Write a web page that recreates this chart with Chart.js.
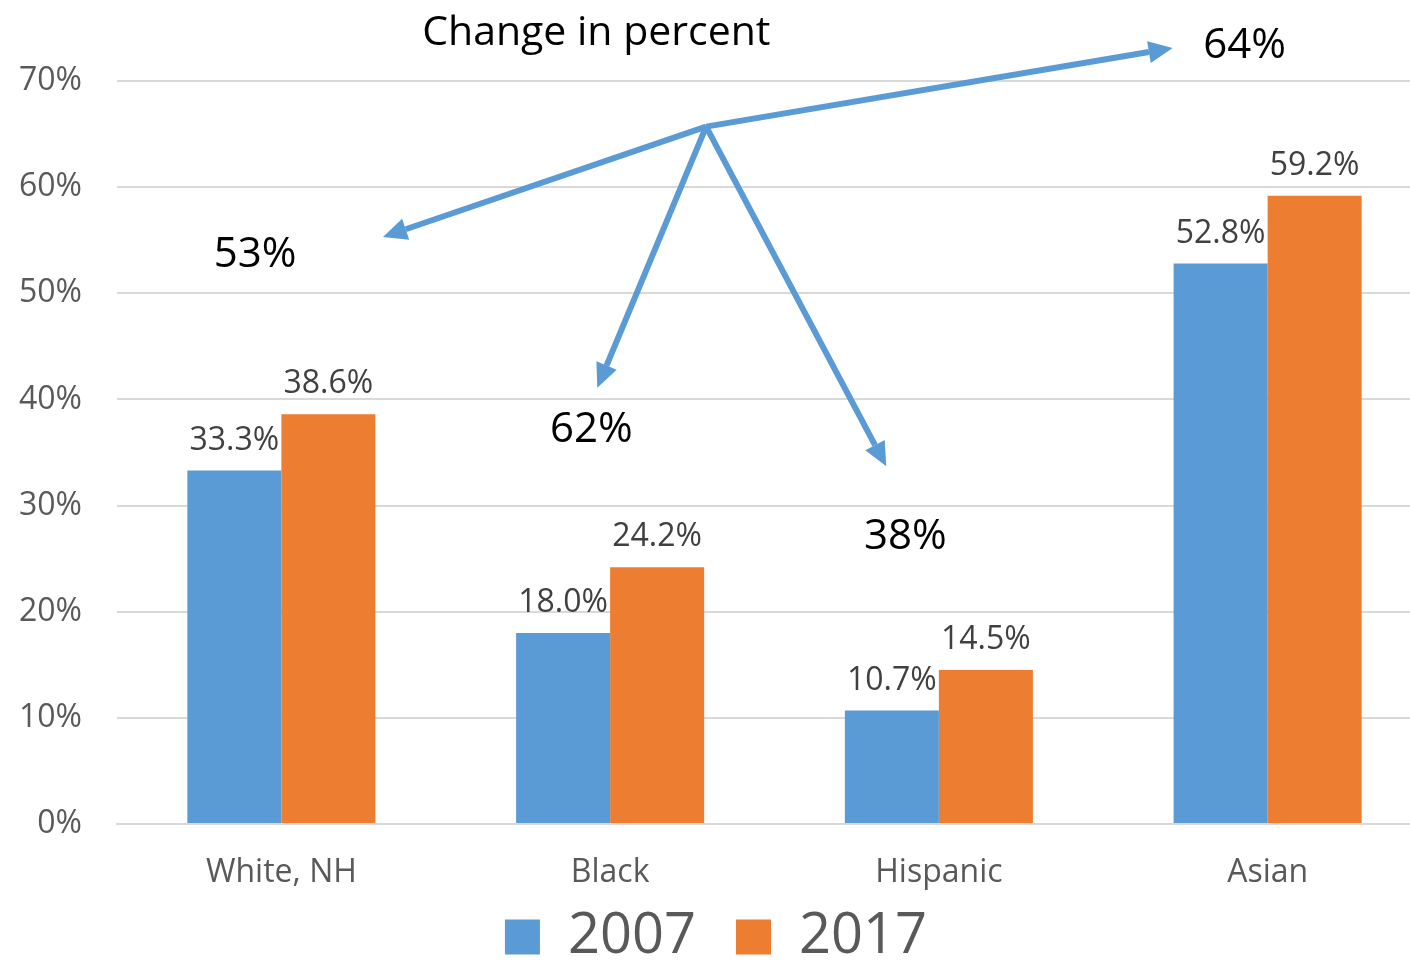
<!DOCTYPE html>
<html>
<head>
<meta charset="utf-8">
<script src="https://cdn.jsdelivr.net/npm/chart.js@4/dist/chart.umd.min.js"></script>
<style>
  html, body { margin: 0; padding: 0; overflow: hidden; background: #fff; }
</style>
</head>
<body>
<canvas id="chart" width="1432" height="1005"></canvas>
<script>
const categories = ['White, NH', 'Black', 'Hispanic', 'Asian'];
const years = ['2007', '2017'];
const values2007 = [33.3, 18.0, 10.7, 52.8];
const values2017 = [38.6, 24.2, 14.5, 59.2];
const yTicks = [0, 10, 20, 30, 40, 50, 60, 70];

// change labels, placed in data units (x = category index, y = percent)
const changeLabels = ['53%', '62%', '38%', '64%'];
const changeLabelX = [-0.08, 0.943, 1.898, 2.93];
const changeLabelY = [53.6, 37.1, 27.0, 73.3];
const arrowFrom = [1.292, 65.7];
const arrowTipX = [0.309, 0.961, 1.84, 2.711];
const arrowTipY = [55.3, 41.1, 33.7, 73.1];
const noteText = 'Change in percent';
const notePos = [0.958, 74.5];

const FONT = '"Open Sans", "Noto Sans", sans-serif';
const blue = '#5b9bd5';
const orange = '#ed7d31';

const barLabels = {
    id: 'barLabels',
    afterDatasetsDraw(chart) {
        const ctx = chart.ctx;
        ctx.save();
        ctx.font = '32px ' + FONT;
        ctx.fillStyle = '#404040';
        ctx.textAlign = 'center';
        ctx.textBaseline = 'bottom';
        chart.data.datasets.forEach((ds, i) => {
            chart.getDatasetMeta(i).data.forEach((bar, j) => {
                ctx.fillText(ds.data[j].toFixed(1) + '%', bar.x, bar.y - 14);
            });
        });
        ctx.restore();
    }
};

// pull the legend up a little so it sits just under the category labels
const legendShift = {
    id: 'legendShift',
    afterLayout(chart) {
        chart.legend.top -= 30;
        chart.legend.bottom -= 30;
    }
};

const arrows = {
    id: 'arrows',
    afterDraw(chart) {
        const ctx = chart.ctx;
        const xs = chart.scales.x, ys = chart.scales.y;
        const px = v => xs.getPixelForValue(0) + v * (xs.getPixelForValue(1) - xs.getPixelForValue(0));
        const py = v => ys.getPixelForValue(v);
        const ox = px(arrowFrom[0]), oy = py(arrowFrom[1]);
        ctx.save();
        ctx.strokeStyle = blue;
        ctx.fillStyle = blue;
        ctx.lineWidth = 6;
        for (let i = 0; i < arrowTipX.length; i++) {
            const tx = px(arrowTipX[i]), ty = py(arrowTipY[i]);
            const a = Math.atan2(ty - oy, tx - ox);
            const head = 24, half = 11;
            const bx = tx - head * Math.cos(a), by = ty - head * Math.sin(a);
            ctx.beginPath();
            ctx.moveTo(ox, oy);
            ctx.lineTo(bx, by);
            ctx.stroke();
            ctx.beginPath();
            ctx.moveTo(tx, ty);
            ctx.lineTo(bx + half * Math.sin(a), by - half * Math.cos(a));
            ctx.lineTo(bx - half * Math.sin(a), by + half * Math.cos(a));
            ctx.closePath();
            ctx.fill();
        }
        ctx.fillStyle = '#000';
        ctx.font = '42px ' + FONT;
        ctx.textAlign = 'center';
        ctx.textBaseline = 'middle';
        changeLabels.forEach((t, i) => ctx.fillText(t, px(changeLabelX[i]), py(changeLabelY[i])));
        ctx.font = '41px ' + FONT;
        ctx.fillText(noteText, px(notePos[0]), py(notePos[1]));
        ctx.restore();
    }
};

new Chart(document.getElementById('chart'), {
    type: 'bar',
    data: {
        labels: categories,
        datasets: [
            { label: years[0], data: values2007, backgroundColor: blue },
            { label: years[1], data: values2017, backgroundColor: orange }
        ]
    },
    options: {
        responsive: false,
        animation: false,
        layout: { padding: { top: 81, left: 0, right: 0, bottom: 0 } },
        datasets: { bar: { barPercentage: 1, categoryPercentage: 0.572 } },
        scales: {
            x: {
                grid: { display: false, drawTicks: false },
                border: { color: '#d9d9d9', width: 2 },
                ticks: { color: '#595959', font: { family: FONT, size: 32 }, padding: 30 },
                afterFit: s => { s.height = 75; }
            },
            y: {
                min: 0,
                max: 70,
                afterBuildTicks: s => { s.ticks = yTicks.map(v => ({ value: v })); },
                grid: { color: '#d9d9d9', lineWidth: 2, drawTicks: false },
                border: { display: false },
                ticks: {
                    color: '#595959',
                    font: { family: FONT, size: 32 },
                    padding: 35,
                    callback: v => v + '%'
                },
                afterFit: s => { s.width = 117; }
            }
        },
        plugins: {
            legend: {
                position: 'bottom',
                labels: {
                    color: '#595959',
                    font: { family: FONT, size: 56 },
                    boxWidth: 35,
                    boxHeight: 35,
                    padding: 40
                }
            },
            tooltip: { enabled: false }
        }
    },
    plugins: [barLabels, arrows, legendShift]
});
</script>
</body>
</html>
